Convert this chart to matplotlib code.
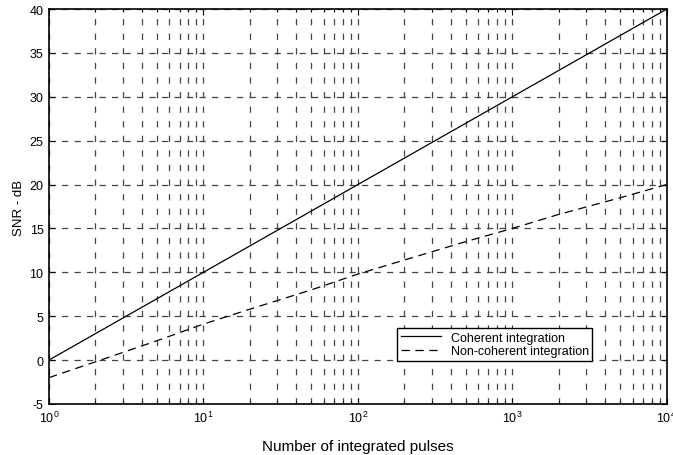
import matplotlib
matplotlib.use("Agg")
import matplotlib.pyplot as plt
from matplotlib.ticker import LogLocator, MultipleLocator

plt.rcParams['font.family'] = ['Liberation Sans', 'DejaVu Sans']
plt.rcParams['lines.scale_dashes'] = False
plt.rcParams['axes.unicode_minus'] = False

# Data
pulses_coh = [1, 10, 100, 1000, 10000]
snr_coh = [0.0, 10.0, 20.0, 30.0, 40.0]

pulses_nci = [1, 2, 5, 10, 20, 50, 100, 200, 500, 1000, 2000, 5000, 10000]
snr_nci = [-2.0, -0.2, 2.2, 4.1, 5.8, 8.0, 9.8, 11.4, 13.5, 15.0, 16.6, 18.5, 20.0]

labels = ['Coherent integration', 'Non-coherent integration']
xlabel = 'Number of integrated pulses'
ylabel = 'SNR - dB'

fig = plt.figure(figsize=(6.73, 4.56), dpi=100)
ax = fig.add_axes([0.0728, 0.112, 0.918, 0.866])

ax.semilogx(pulses_coh, snr_coh, color='black', lw=0.9, label=labels[0])
ax.semilogx(pulses_nci, snr_nci, color='black', lw=0.9, linestyle=(0, (6, 4)), label=labels[1])

ax.set_xlim(1, 1e4)
ax.set_ylim(-5, 40)
ax.yaxis.set_major_locator(MultipleLocator(5))
ax.xaxis.set_major_locator(LogLocator(base=10, numticks=10))
ax.xaxis.set_minor_locator(LogLocator(base=10, subs=range(2, 10), numticks=100))

ax.grid(True, which='both', axis='x', color='#444444', lw=0.9, linestyle=(0, (4.5, 6)))
ax.grid(True, which='major', axis='y', color='#444444', lw=0.9, linestyle=(0, (4.5, 4.5)))

ax.tick_params(which='both', direction='in', top=True, right=True, labelsize=9, colors='black', pad=4)
ax.tick_params(which='major', length=4, width=0.8)
ax.tick_params(which='minor', length=2.5, width=0.8)
for s in ax.spines.values():
    s.set_linewidth(1.2)

ax.set_xlabel(xlabel, fontsize=11, labelpad=10)
ax.set_ylabel(ylabel, fontsize=9.5, labelpad=3)

leg = ax.legend(loc='upper left', bbox_to_anchor=(0.563, 0.192), fontsize=9,
                frameon=True, fancybox=False, edgecolor='black', framealpha=1,
                handlelength=3.2, borderpad=0.3, labelspacing=0.1, handletextpad=0.8,
                borderaxespad=0)
leg.get_frame().set_linewidth(1.0)

fig.savefig('out.png', dpi=100)
